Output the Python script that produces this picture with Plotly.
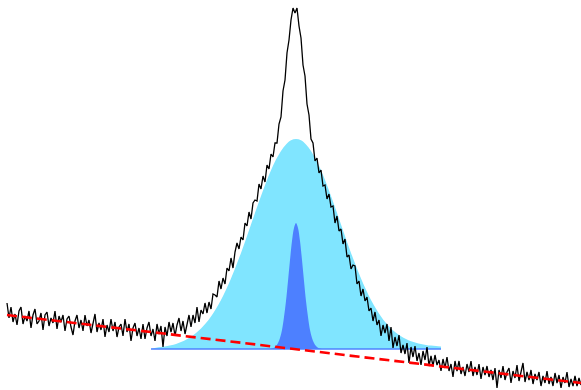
import plotly.graph_objects as go

# ---- data (heights in chart units, x in channel units) ----
spectrum_x = list(range(7, 582, 2))
spectrum_y = [
    87, 72, 83, 68, 76, 65, 79, 83, 66, 74,
    69, 79, 62, 75, 81, 66, 69, 77, 60, 75,
    78, 64, 72, 67, 79, 61, 74, 68, 75, 59,
    71, 74, 63, 55, 69, 75, 62, 70, 59, 75,
    64, 70, 57, 66, 76, 58, 67, 60, 71, 53,
    65, 58, 71, 59, 68, 53, 63, 66, 54, 71,
    58, 66, 49, 62, 67, 54, 62, 51,
    66, 51, 62, 68, 54, 61, 49, 66, 56, 64,
    43, 63, 54, 68, 58, 67, 54, 65, 72, 59,
    69, 56, 67, 75, 63, 75, 67, 83, 68, 80,
    76, 87, 77, 88, 81, 96, 95, 93, 109, 101,
    112, 106, 122, 119, 132, 122, 138, 147, 141, 153,
    150, 167, 164, 178, 171, 187, 190, 189, 206, 201,
    214, 208, 225, 221, 236, 233, 247, 247, 266, 273,
    299, 310, 337, 350, 370, 382, 377, 382, 364, 352,
    325, 314, 286, 275, 251, 247, 229, 232, 217, 220,
    204, 205, 191, 196, 183, 184, 167, 174, 159, 161,
    146, 151, 133, 135, 121, 125, 124, 106, 109, 94,
    101, 89, 93, 79, 82, 69, 78, 65, 70, 54,
    65, 57, 66, 49, 63, 42, 53, 44, 55, 37,
    45, 36, 47, 27, 43, 33, 44, 29, 37, 25,
    39, 30, 43, 24, 34, 24, 35, 25, 30, 19,
    31, 22, 33, 19, 26, 13, 29, 19, 29, 16,
    23, 14, 26, 18, 29, 14, 23, 15, 26, 11,
    23, 15, 24, 13, 20, 10, 22, 2, 20, 12,
    24, 10, 18, 22, 7, 19, 12, 25, 9, 17,
    27, 8, 18, 10, 20, 6, 16, 10, 18, 4,
    14, 7, 19, 6, 13, 4, 17, 7, 15, 2,
    13, 7, 18, 3, 11, 4, 14, 4, 12, 5,
]

# linear background (fit)
background_x = [7, 581]
background_y = [75.0, 7.0]

# fitted components, drawn above a flat base level
component_base = 41.0
component_span = [151, 441]

broad_x = list(range(151, 442, 5))
broad_h = [
    0, 1.3, 1.9, 2.7, 3.7, 5.1, 6.9, 9.2, 12.2, 15.9,
    20.4, 25.9, 32.5, 40.2, 49.1, 59.2, 70.5, 82.9, 96.1, 110.1,
    124.5, 138.9, 153.0, 166.4, 178.7, 189.4, 198.1, 204.6, 208.7, 210.0,
    208.7, 204.6, 198.1, 189.4, 178.7, 166.4, 153.0, 138.9, 124.5, 110.1,
    96.1, 82.9, 70.5, 59.2, 49.1, 40.2, 32.5, 25.9, 20.6, 16.3,
    12.8, 10.0, 7.8, 6.2, 5.0, 4.1, 3.4, 2.9, 2.5,
]

narrow_x = list(range(270, 323, 2))
narrow_h = [
    0, 0.5, 1.3, 3, 6, 11, 19, 32, 48, 68, 89, 108, 121, 126,
    121, 108, 89, 68, 48, 32, 19, 11, 6, 3, 1.3, 0.5, 0,
]

CYAN = "#80e5ff"
BLUE = "#4d80ff"

fig = go.Figure()

# base for the broad component fill
fig.add_trace(go.Scatter(
    x=component_span, y=[component_base] * len(component_span),
    mode="lines", line=dict(width=0, color=BLUE), hoverinfo="skip"))

fig.add_trace(go.Scatter(
    x=broad_x, y=[component_base + h for h in broad_h],
    mode="lines", line=dict(width=0, color=CYAN, shape="spline"),
    fill="tonexty", fillcolor=CYAN, hoverinfo="skip"))

fig.add_trace(go.Scatter(
    x=narrow_x, y=[component_base + h for h in narrow_h],
    mode="lines", line=dict(width=0, color=BLUE, shape="spline"),
    fill="toself", fillcolor=BLUE, hoverinfo="skip"))

# visible base line
fig.add_trace(go.Scatter(
    x=component_span, y=[component_base] * len(component_span),
    mode="lines", line=dict(width=1.5, color=BLUE), hoverinfo="skip"))

# measured spectrum
fig.add_trace(go.Scatter(
    x=spectrum_x, y=spectrum_y, mode="lines",
    line=dict(width=1.3, color="black"), hoverinfo="skip"))

# background line
fig.add_trace(go.Scatter(
    x=background_x, y=background_y, mode="lines",
    line=dict(width=2.6, color="#ff0000", dash="10px,5px"), hoverinfo="skip"))

fig.update_layout(
    width=581, height=390,
    margin=dict(l=0, r=0, t=0, b=0),
    paper_bgcolor="white", plot_bgcolor="white",
    showlegend=False,
    xaxis=dict(range=[0, 581], visible=False, fixedrange=True),
    yaxis=dict(range=[0, 390], visible=False, fixedrange=True),
)

fig.write_html("out.html")
